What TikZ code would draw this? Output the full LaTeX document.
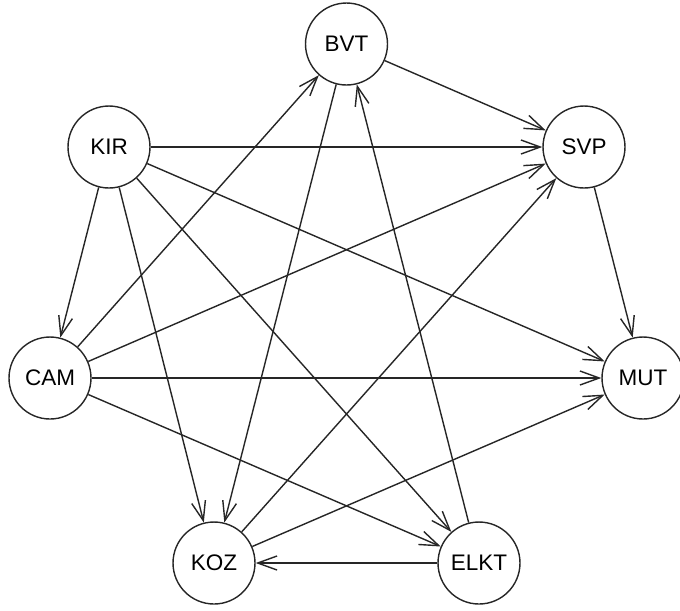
\documentclass[tikz,border=0pt]{standalone}
\usepackage{fontspec}
\setmainfont{Liberation Sans}
\usetikzlibrary{arrows.meta}
\begin{document}
\begin{tikzpicture}[x=0.02cm,y=-0.02cm,
  vertex/.style={circle,draw=black!85,line width=0.8pt,minimum size=1.64cm,
    inner sep=0pt,font=\fontsize{12.8}{15}\selectfont},
  edge/.style={draw=black!85,line width=0.8pt,
    -{Straight Barb[length=11pt,width=8pt]}}]
\useasboundingbox (0,0) rectangle (680,610);
% vertices on an ellipse (circle layout)
\node[vertex] (BVT)  at (346.5,44) {BVT};
\node[vertex] (KIR)  at (109,147)  {KIR};
\node[vertex] (SVP)  at (584,147)  {SVP};
\node[vertex] (CAM)  at (50,378)   {CAM};
\node[vertex] (MUT)  at (643,378)  {MUT};
\node[vertex] (KOZ)  at (214,563)  {KOZ};
\node[vertex] (ELKT) at (479,563)  {ELKT};
% directed edges
\draw[edge] (KIR) -- (SVP);
\draw[edge] (KIR) -- (CAM);
\draw[edge] (KIR) -- (KOZ);
\draw[edge] (KIR) -- (ELKT);
\draw[edge] (KIR) -- (MUT);
\draw[edge] (BVT) -- (SVP);
\draw[edge] (BVT) -- (KOZ);
\draw[edge] (SVP) -- (MUT);
\draw[edge] (CAM) -- (BVT);
\draw[edge] (CAM) -- (SVP);
\draw[edge] (CAM) -- (MUT);
\draw[edge] (CAM) -- (ELKT);
\draw[edge] (KOZ) -- (SVP);
\draw[edge] (KOZ) -- (MUT);
\draw[edge] (ELKT) -- (KOZ);
\draw[edge] (ELKT) -- (BVT);
\end{tikzpicture}
\end{document}
